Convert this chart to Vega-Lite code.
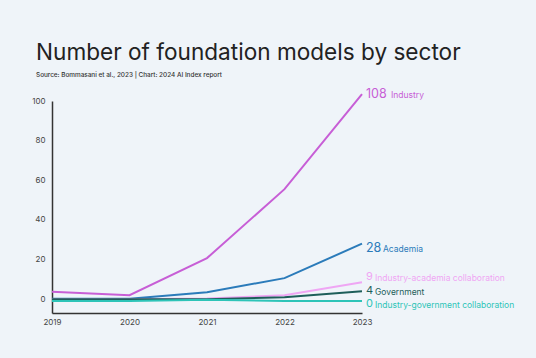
{
  "$schema": "https://vega.github.io/schema/vega-lite/v6.json",
  "autosize": {"type": "none"},
  "width": 310,
  "height": 212,
  "padding": {"left": 52, "top": 101, "right": 174, "bottom": 45},
  "background": "#eff4f9",
  "title": {
    "text": "Number of foundation models by sector",
    "subtitle": "Source: Bommasani et al., 2023 | Chart: 2024 AI Index report",
    "anchor": "start",
    "frame": "group",
    "dx": -16,
    "offset": 10,
    "font": "Inter",
    "fontSize": 22.6,
    "fontWeight": 400,
    "color": "#222222",
    "subtitleFont": "Inter",
    "subtitleFontSize": 6.4,
    "subtitleFontWeight": 500,
    "subtitleColor": "#333333",
    "subtitlePadding": 7
  },
  "config": {
    "view": {"stroke": null},
    "font": "Inter"
  },
  "datasets": {
    "series": [
      {"year": 2019, "sector": "Industry", "value": 3.7},
      {"year": 2020, "sector": "Industry", "value": 2},
      {"year": 2021, "sector": "Industry", "value": 20.7},
      {"year": 2022, "sector": "Industry", "value": 55.5},
      {"year": 2023, "sector": "Industry", "value": 103.5},
      {"year": 2019, "sector": "Academia", "value": 0.2},
      {"year": 2020, "sector": "Academia", "value": 0.2},
      {"year": 2021, "sector": "Academia", "value": 3.5},
      {"year": 2022, "sector": "Academia", "value": 10.6},
      {"year": 2023, "sector": "Academia", "value": 28},
      {"year": 2019, "sector": "Industry-academia collaboration", "value": 0},
      {"year": 2020, "sector": "Industry-academia collaboration", "value": 0},
      {"year": 2021, "sector": "Industry-academia collaboration", "value": 0.3},
      {"year": 2022, "sector": "Industry-academia collaboration", "value": 2},
      {"year": 2023, "sector": "Industry-academia collaboration", "value": 8.5},
      {"year": 2019, "sector": "Government", "value": 0},
      {"year": 2020, "sector": "Government", "value": 0},
      {"year": 2021, "sector": "Government", "value": 0},
      {"year": 2022, "sector": "Government", "value": 1},
      {"year": 2023, "sector": "Government", "value": 4},
      {"year": 2019, "sector": "Industry-government collaboration", "value": -1},
      {"year": 2020, "sector": "Industry-government collaboration", "value": -1},
      {"year": 2021, "sector": "Industry-government collaboration", "value": -0.3},
      {"year": 2022, "sector": "Industry-government collaboration", "value": -1},
      {"year": 2023, "sector": "Industry-government collaboration", "value": -1}
    ],
    "labels": [
      {"year": 2023, "sector": "Industry", "value": 103.5, "num": "108", "digits": 3},
      {"year": 2023, "sector": "Academia", "value": 26, "num": "28", "digits": 2},
      {"year": 2023, "sector": "Industry-academia collaboration", "value": 11.3, "num": "9", "digits": 1},
      {"year": 2023, "sector": "Government", "value": 4.3, "num": "4", "digits": 1},
      {"year": 2023, "sector": "Industry-government collaboration", "value": -2.7, "num": "0", "digits": 1}
    ]
  },
  "encoding": {
    "x": {
      "field": "year", "type": "quantitative",
      "scale": {"domain": [2019, 2023], "nice": false, "zero": false},
      "axis": {
        "title": null, "values": [2019, 2020, 2021, 2022, 2023], "format": "d",
        "ticks": false, "grid": false, "domainColor": "#333333", "domainWidth": 1.5,
        "labelFontSize": 8, "labelColor": "#444444", "labelPadding": 5, "labelFlush": false
      }
    },
    "y": {
      "field": "value", "type": "quantitative",
      "scale": {"domain": [-7, 100], "nice": false, "zero": false},
      "axis": {
        "title": null, "values": [0, 20, 40, 60, 80, 100],
        "ticks": false, "grid": false, "domainColor": "#333333", "domainWidth": 1.5,
        "labelFontSize": 8, "labelColor": "#444444", "labelPadding": 7
      }
    },
    "color": {
      "field": "sector", "type": "nominal", "legend": null,
      "scale": {
        "domain": ["Industry", "Academia", "Industry-academia collaboration", "Government", "Industry-government collaboration"],
        "range": ["#c75ed6", "#2b7bba", "#efa6f4", "#1d5e5a", "#2ec4b8"]
      }
    }
  },
  "layer": [
    {
      "data": {"name": "series"},
      "mark": {"type": "line", "strokeWidth": 2, "clip": false},
      "encoding": {
        "order": {"field": "year"},
        "detail": {"field": "sector"}
      }
    },
    {
      "data": {"name": "labels"},
      "transform": [{"filter": "datum.digits > 1"}],
      "mark": {"type": "text", "align": "left", "baseline": "middle", "dx": 4, "fontSize": 12.5, "fontWeight": 400},
      "encoding": {"text": {"field": "num"}}
    },
    {
      "data": {"name": "labels"},
      "transform": [{"filter": "datum.digits == 1"}],
      "mark": {"type": "text", "align": "left", "baseline": "middle", "dx": 4, "fontSize": 11, "fontWeight": 400},
      "encoding": {"text": {"field": "num"}}
    },
    {
      "data": {"name": "labels"},
      "transform": [{"filter": "datum.digits == 3"}],
      "mark": {"type": "text", "align": "left", "baseline": "middle", "dx": 29, "dy": 1, "fontSize": 8.5},
      "encoding": {"text": {"field": "sector"}}
    },
    {
      "data": {"name": "labels"},
      "transform": [{"filter": "datum.digits == 2"}],
      "mark": {"type": "text", "align": "left", "baseline": "middle", "dx": 21, "dy": 1, "fontSize": 8.5},
      "encoding": {"text": {"field": "sector"}}
    },
    {
      "data": {"name": "labels"},
      "transform": [{"filter": "datum.digits == 1"}],
      "mark": {"type": "text", "align": "left", "baseline": "middle", "dx": 13, "dy": 1, "fontSize": 8.5},
      "encoding": {"text": {"field": "sector"}}
    }
  ]
}
